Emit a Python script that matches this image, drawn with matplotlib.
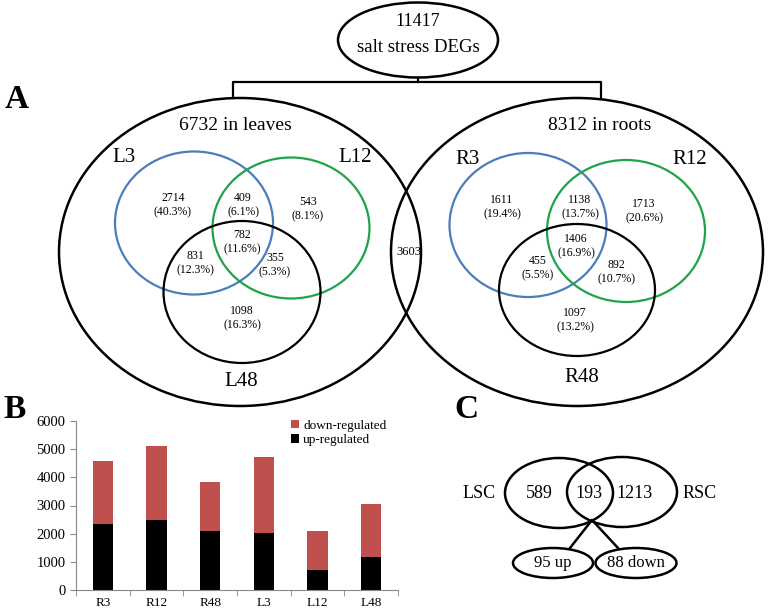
import matplotlib
matplotlib.use("Agg")
import matplotlib.pyplot as plt
from matplotlib.patches import Ellipse

plt.rcParams['font.family'] = ['Liberation Serif', 'DejaVu Serif']

# ---------------- data ----------------
total_degs = 11417
leaves_total = 6732
roots_total = 8312
shared_lr = 3603

leaf_sets = ["L3", "L12", "L48"]
root_sets = ["R3", "R12", "R48"]
# regions: only-3, 3&12, only-12, all, 3&48, 12&48, only-48
leaf_counts = [2714, 409, 543, 782, 831, 355, 1098]
root_counts = [1611, 1138, 1713, 1406, 455, 892, 1097]

bar_cats = ["R3", "R12", "R48", "L3", "L12", "L48"]
up_reg = [2330, 2470, 2110, 2040, 720, 1160]
down_reg = [2260, 2650, 1720, 2680, 1360, 1890]

sc_labels = ["LSC", "RSC"]
sc_counts = [589, 193, 1213]
sc_split = ["95 up", "88 down"]

# ---------------- figure ----------------
W, H = 771, 612
fig = plt.figure(figsize=(W / 100, H / 100), dpi=100)
ax = fig.add_axes([0, 0, 1, 1])
ax.set_xlim(0, W)
ax.set_ylim(H, 0)
ax.axis('off')

def ell(cx, cy, w, h, color='black', lw=1.8):
    ax.add_patch(Ellipse((cx, cy), w, h, fill=False, edgecolor=color, lw=lw))

def txt(x, y, s, size, **kw):
    ax.text(x, y, s, fontsize=size, ha='center', va='center', **kw)

BLUE = '#4a7ebb'
GREEN = '#1ea34a'

# top node
ell(418, 40, 160, 75)
txt(418, 22, str(total_degs), 13)
txt(418, 48, "salt stress DEGs", 13.5)
ax.plot([418, 418, 233, 233], [78, 82, 82, 98], color='black', lw=1.6)
ax.plot([418, 601, 601], [82, 82, 98], color='black', lw=1.6)

# panel letters
txt(17, 100, "A", 24, fontweight='bold')
txt(15, 409, "B", 24, fontweight='bold')
txt(466, 410, "C", 24, fontweight='bold')

# big ellipses
ell(240, 252, 362, 308)
ell(577, 252, 372, 308)
txt(235, 126, f"{leaves_total} in leaves", 14)
txt(600, 126, f"{roots_total} in roots", 14)
txt(409, 252, str(shared_lr), 9)

def venn(circles, labels, label_pos, counts, pos, total):
    colors = [BLUE, GREEN, 'black']
    for (cx, cy, w, h), c in zip(circles, colors):
        ell(cx, cy, w, h, color=c, lw=1.6)
    for lab, (x, y) in zip(labels, label_pos):
        txt(x, y, lab, 15)
    for n, (x, y) in zip(counts, pos):
        txt(x, y - 7, str(n), 8.5)
        txt(x, y + 7, f"({100 * n / total:.1f}%)", 8.5)

venn([(194, 223, 158, 143), (291, 228, 157, 141), (242, 292, 157, 142)],
     leaf_sets, [(124, 158), (355, 158), (241, 381)],
     leaf_counts,
     [(173, 205), (243, 205), (308, 209), (242, 242), (195, 263), (275, 265), (242, 318)],
     leaves_total)

venn([(528, 225, 157, 144), (626, 231, 158, 142), (577, 290, 156, 132)],
     root_sets, [(468, 160), (690, 160), (582, 377)],
     root_counts,
     [(502, 207), (580, 207), (644, 211), (576, 246), (538, 268), (616, 272), (575, 320)],
     roots_total)

# panel C
ell(559, 493, 108, 70)
ell(622, 492, 110, 70)
txt(479, 493, sc_labels[0], 13)
txt(700, 493, sc_labels[1], 13)
for n, x in zip(sc_counts, [539, 589, 635]):
    txt(x, 493, str(n), 13)
ax.plot([570, 592, 618], [548, 520, 548], color='black', lw=1.8)
ell(553, 563, 80, 30)
ell(636, 563, 81, 30)
txt(553, 563, sc_split[0], 12)
txt(636, 563, sc_split[1], 12)

# panel B bar chart
bx0, bx1, by0, by1 = 76, 398, 590, 421
bax = fig.add_axes([bx0 / W, 1 - by0 / H, (bx1 - bx0) / W, (by0 - by1) / H])
xs = range(len(bar_cats))
bax.bar(xs, up_reg, width=0.38, color='black', label='up-regulated', zorder=2)
bax.bar(xs, down_reg, width=0.38, bottom=up_reg, color='#c0504d',
        label='down-regulated', zorder=2)
bax.set_xlim(-0.5, len(bar_cats) - 0.5)
bax.set_ylim(0, 6000)
bax.set_yticks(range(0, 6001, 1000))
bax.set_xticks(list(xs))
bax.set_xticklabels(bar_cats)
bax.set_xticks([i + 0.5 for i in range(-1, len(bar_cats))], minor=True)
bax.tick_params(axis='x', which='major', length=0, pad=5, labelsize=9.5)
bax.tick_params(axis='x', which='minor', length=4, color='#888888')
bax.tick_params(axis='y', length=4, color='#888888', labelsize=10.5)
for s in ['top', 'right']:
    bax.spines[s].set_visible(False)
for s in ['left', 'bottom']:
    bax.spines[s].set_color('#888888')
bax.set_facecolor('none')
handles, labels = bax.get_legend_handles_labels()
bax.legend(handles[::-1], labels[::-1], loc='upper right', frameon=False,
           fontsize=9.5, handlelength=0.6, handleheight=0.6, handletextpad=0.3,
           labelspacing=0.2, borderaxespad=0.0, bbox_to_anchor=(0.98, 1.04))

fig.savefig("out.png", dpi=100)
